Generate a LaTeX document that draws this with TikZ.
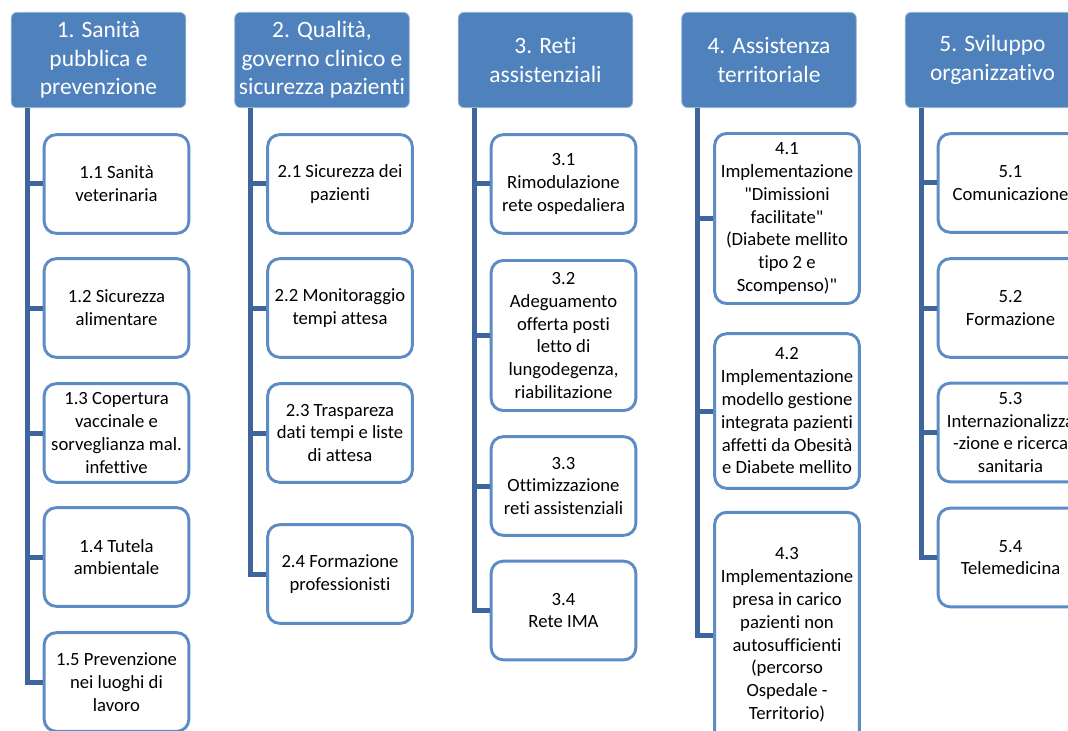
\documentclass[tikz,border=0pt]{standalone}
\usepackage{fontspec}
\newfontfamily\carlito{Carlito}[Ligatures=NoCommon]

\definecolor{hdrblue}{RGB}{79,129,189}
\definecolor{boxblue}{RGB}{92,140,198}
\definecolor{trunkblue}{RGB}{62,102,156}

\tikzset{every picture/.style={line width=0.75pt}}
\tikzset{
  head/.style={draw=hdrblue!55!white, line width=0.6pt, fill=hdrblue, rounded corners=4.5pt,
    minimum width=131pt, minimum height=71.5pt, inner sep=0pt, align=center, text=white,
    font=\carlito\fontsize{17.6}{21.4}\selectfont},
  sub/.style={draw=boxblue, line width=2.2pt, fill=white, rounded corners=9pt,
    minimum width=108.5pt, minimum height=74pt, inner sep=0pt, align=center,
    font=\carlito\fontsize{14}{17.1}\selectfont},
  trunk/.style={draw=trunkblue, line width=3.75pt},
}

\begin{document}
\begin{tikzpicture}[x=0.75pt,y=0.75pt,yscale=-1,xscale=1]
	\clip (0,0) rectangle (1068,731); %diagram area 1068 x 731

	% Headers
	\node [head] (h1) at (98.5,60) {1. Sanità\\pubblica e\\prevenzione};
	\node [head] (h2) at (322,60) {2. Qualità,\\governo clinico e\\sicurezza pazienti};
	\node [head] (h3) at (545.5,60) {3. Reti\\assistenziali};
	\node [head] (h4) at (769,60) {4. Assistenza\\territoriale};
	\node [head] (h5) at (992.5,60) {5. Sviluppo\\organizzativo};

	% Trunk positions
	\coordinate (t1) at (27,60);
	\coordinate (t2) at (250.5,60);
	\coordinate (t3) at (474,60);
	\coordinate (t4) at (697.5,60);
	\coordinate (t5) at (921,60);

	% Column 1
	\node [sub] (c11) at (116.5,184) {1.1 Sanità\\veterinaria};
	\node [sub] (c12) at (116.5,308) {1.2 Sicurezza\\alimentare};
	\node [sub] (c13) at (116.5,433) {1.3 Copertura\\vaccinale e\\sorveglianza mal.\\infettive};
	\node [sub] (c14) at (116.5,557) {1.4 Tutela\\ambientale};
	\node [sub] (c15) at (116.5,682) {1.5 Prevenzione\\nei luoghi di\\lavoro};

	% Column 2
	\node [sub] (c21) at (340,184) {2.1 Sicurezza dei\\pazienti};
	\node [sub] (c22) at (340,308) {2.2 Monitoraggio\\tempi attesa};
	\node [sub] (c23) at (340,433) {2.3 Traspareza\\dati tempi e liste\\di attesa};
	\node [sub] (c24) at (340,574) {2.4 Formazione\\professionisti};

	% Column 3
	\node [sub] (c31) at (563.5,184) {3.1\\Rimodulazione\\rete ospedaliera};
	\node [sub, minimum height=112.5pt] (c32) at (563.5,335.5) {3.2\\Adeguamento\\offerta posti\\letto di\\lungodegenza,\\riabilitazione};
	\node [sub] (c33) at (563.5,486) {3.3\\Ottimizzazione\\reti assistenziali};
	\node [sub] (c34) at (563.5,610.5) {3.4\\Rete IMA};

	% Column 4
	\node [sub, minimum height=127.5pt] (c41) at (787,218.5) {4.1\\Implementazione\\"Dimissioni\\facilitate"\\(Diabete mellito\\tipo 2 e\\Scompenso)"};
	\node [sub, minimum height=116pt] (c42) at (787,411) {4.2\\Implementazione\\modello gestione\\integrata pazienti\\affetti da Obesità\\e Diabete mellito};
	\node [sub, minimum height=184pt] (c43) at (787,635) {4.3\\Implementazione\\presa in carico\\pazienti non\\autosufficienti\\(percorso\\Ospedale -\\Territorio)};

	% Column 5
	\node [sub] (c51) at (1010.5,183) {5.1\\Comunicazione};
	\node [sub] (c52) at (1010.5,308) {5.2\\Formazione};
	\node [sub] (c53) at (1010.5,432.5) {5.3\\Internazionalizza\\-zione e ricerca\\sanitaria};
	\node [sub] (c54) at (1010.5,557.5) {5.4\\Telemedicina};

	% Connectors
	\draw [trunk] (h1.south -| t1) |- (c15.west);
	\foreach \c in {c11,c12,c13,c14} \draw [trunk] (t1 |- \c.west) -- (\c.west);
	\draw [trunk] (h2.south -| t2) |- (c24.west);
	\foreach \c in {c21,c22,c23} \draw [trunk] (t2 |- \c.west) -- (\c.west);
	\draw [trunk] (h3.south -| t3) |- (c34.west);
	\foreach \c in {c31,c32,c33} \draw [trunk] (t3 |- \c.west) -- (\c.west);
	\draw [trunk] (h4.south -| t4) |- (c43.west);
	\foreach \c in {c41,c42} \draw [trunk] (t4 |- \c.west) -- (\c.west);
	\draw [trunk] (h5.south -| t5) |- (c54.west);
	\foreach \c in {c51,c52,c53} \draw [trunk] (t5 |- \c.west) -- (\c.west);

\end{tikzpicture}
\end{document}
